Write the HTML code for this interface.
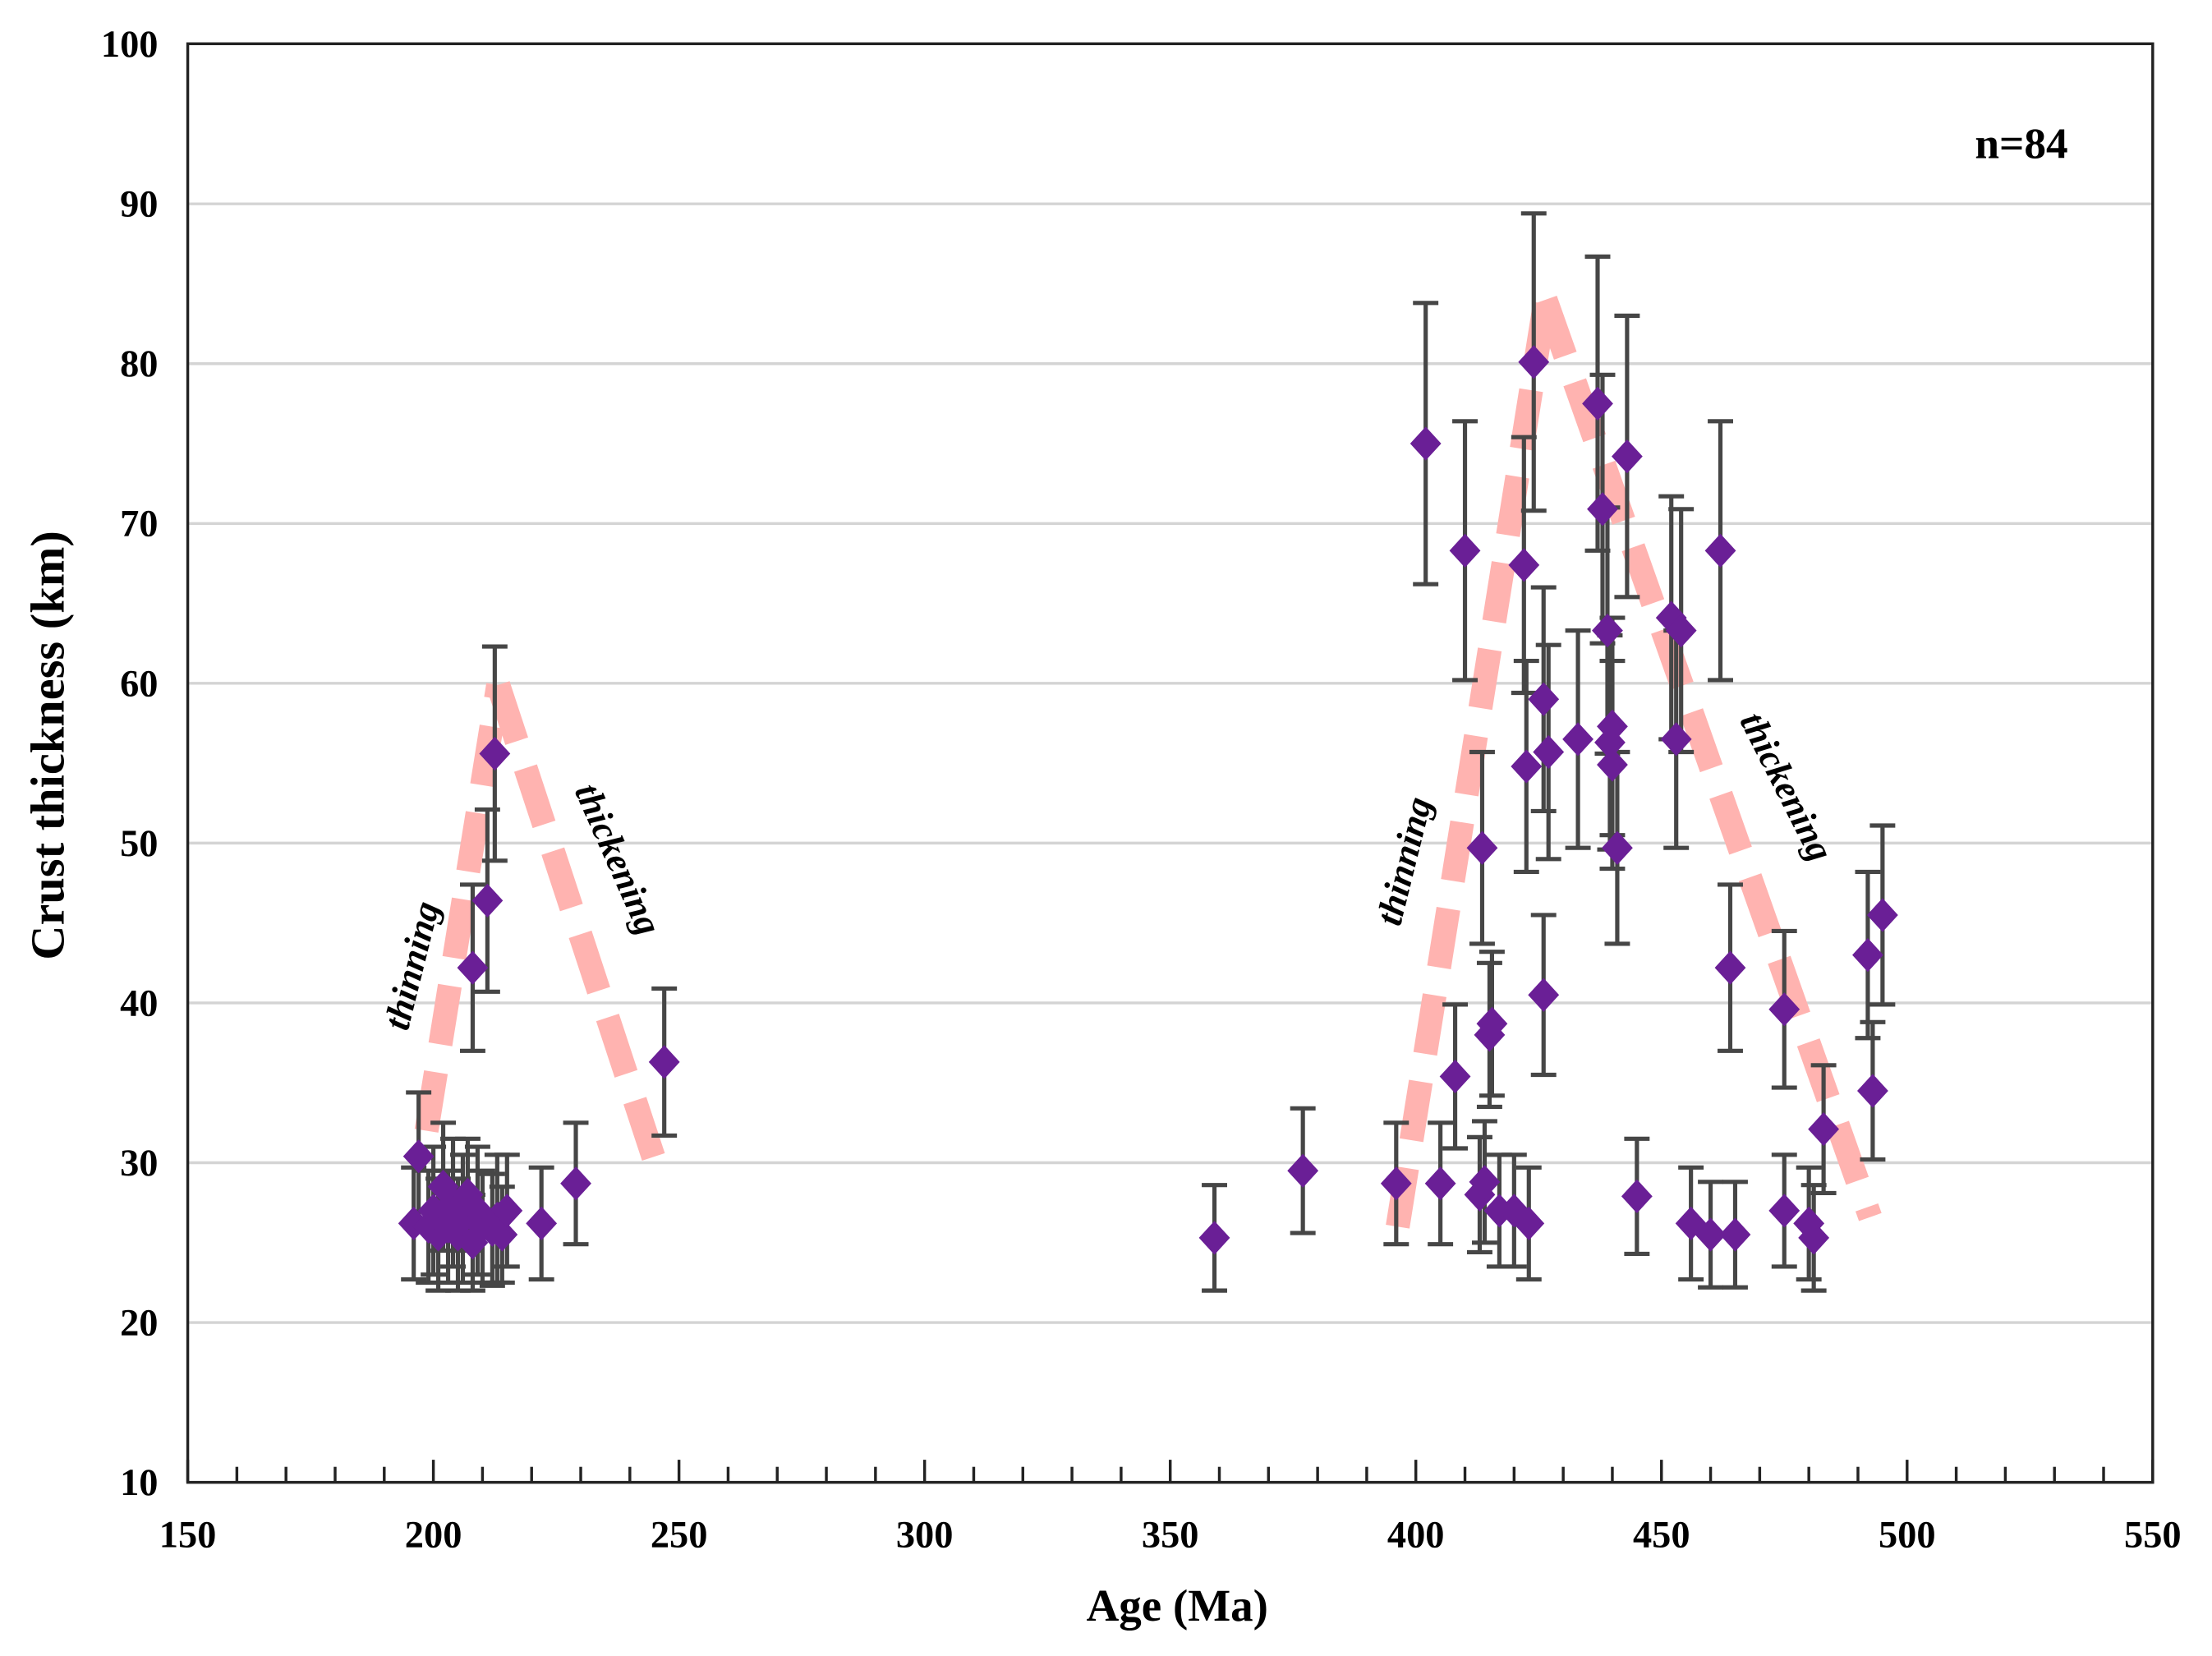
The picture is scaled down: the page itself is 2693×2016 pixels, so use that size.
<!DOCTYPE html>
<html><head><meta charset="utf-8"><style>
html,body{margin:0;padding:0;background:#fff;}
svg{display:block;}
text{font-family:"Liberation Serif",serif;font-weight:bold;fill:#000;}
</style></head><body>
<svg id="chart" width="2693" height="2016" viewBox="0 0 1567 1173" preserveAspectRatio="none" xmlns="http://www.w3.org/2000/svg">
<rect x="0" y="0" width="1567" height="1173" fill="#fff"/>
<g id="grid"></g>
<g id="trends"></g>
<g id="errs"></g>
<g id="pts"></g>
<rect x="133" y="31" width="1392" height="1019" fill="none" stroke="#222" stroke-width="2"/>
<g id="axes"></g>
<text x="834" y="1148" font-size="32" text-anchor="middle">Age (Ma)</text>
<text x="0" y="0" font-size="34" text-anchor="middle" transform="translate(45,528) rotate(-90)">Crust thickness (km)</text>
<text x="1432" y="112" font-size="31" text-anchor="middle">n=84</text>
<text font-size="26" font-style="italic" text-anchor="middle" transform="translate(300,686) rotate(-76)">thinning</text>
<text font-size="26" font-style="italic" text-anchor="middle" transform="translate(430,612) rotate(66)">thickening</text>
<text font-size="26" font-style="italic" text-anchor="middle" transform="translate(1003,612) rotate(-76)">thinning</text>
<text font-size="26" font-style="italic" text-anchor="middle" transform="translate(1258,561) rotate(63)">thickening</text>
</svg>
<script>
const ages=[196,197,199,200,201,202,203,204,205,206,207,208,209,210,212,213,214,215,208,211,212.5,222,229,247,
359,377,396,402,405,408,410,413,413.5,414,415,415.5,417,420,422,422.5,423,424,426,426,427,433,437,438,439,439.5,440,440,441,443,445,452,453,454,456,460,462,464,465,475,475,480,481,483,492,493,495];
const thickness=[26.2,30.4,26,27,25.5,28.5,26,27.5,25.5,26.5,28,25,27,26,25.8,26.5,25.5,27,42.2,46.4,55.6,26.2,28.7,36.3,
25.3,29.5,28.7,75,28.7,35.4,68.3,28,49.7,28.8,38,38.7,27,27,67.4,54.8,26.2,80.1,59,40.5,55.7,56.5,77.5,70.9,63.3,56.3,57.3,54.9,49.7,74.2,27.9,64.1,56.5,63.3,26.2,25.5,68.3,42.2,25.5,27,39.6,26.2,25.3,32.1,43,34.5,45.5];
const errors=[3.5,4,3.5,4,3.5,4,3.5,4,3.5,4,3.5,3,4,3.5,3.5,4,3,3.5,5.2,5.7,6.7,3.5,3.8,4.6,
3.3,3.9,3.8,8.8,3.8,4.5,8.1,3.6,6,3.8,4.5,4.5,3.5,3.5,8,6.6,3.5,9.3,7,5,6.7,6.8,9.2,8.4,7.7,6.7,6.8,6.5,6,8.8,3.6,7.6,6.8,7.6,3.5,3.3,8.1,5.2,3.3,3.5,4.9,3.5,3.3,4,5.2,4.3,5.6];
const trendAges=[[198.6,213.2],[213.2,245.4],[396.3,426.4],[426.4,492.5]];
const trendVals=[[32,59.9],[59.9,29.8],[26,84],[84,26.6]];
const yTicks=[10,20,30,40,50,60,70,80,90,100];
const xTicks=[150,200,250,300,350,400,450,500,550];

const NS='http://www.w3.org/2000/svg';
const X=v=>133+(v-150)*3.48;
const Y=v=>1050-(v-10)*11.32;
function mk(tag,attrs,parent){const e=document.createElementNS(NS,tag);for(const k in attrs)e.setAttribute(k,attrs[k]);document.getElementById(parent).appendChild(e);return e;}

yTicks.forEach(t=>{
  if(t>10&&t<100){const g=mk('line',{x1:133,x2:1525,y1:Y(t),y2:Y(t),stroke:'#d4d4d4','stroke-width':2},'grid');
  
  }
  const tx=mk('text',{x:112,y:Y(t)+9,'font-size':27,'text-anchor':'end'},'axes');tx.textContent=t;
  
  
});
for(let v=150;v<=550;v+=10){
  const len=(v%50===0)?16:11;
  const tk=mk('line',{x1:X(v),x2:X(v),y1:1050,y2:1050-len,stroke:'#222','stroke-width':2},'axes');
  
  
}
xTicks.forEach(t=>{
  const tx=mk('text',{x:X(t),y:1096,'font-size':27,'text-anchor':'middle'},'axes');tx.textContent=t;
  
  
});
trendAges.forEach((a,i)=>{
  const l=mk('line',{x1:X(a[0]),y1:Y(trendVals[i][0]),x2:X(a[1]),y2:Y(trendVals[i][1]),stroke:'#ffb3b0','stroke-width':17,'stroke-dasharray':'42 20'},'trends');
  
  
});
ages.forEach((a,i)=>{
  const cx=X(a),cy=Y(thickness[i]),hi=Y(thickness[i]+errors[i]),lo=Y(thickness[i]-errors[i]);
  const p=mk('path',{d:`M${cx},${hi}V${lo}M${cx-9},${hi}H${cx+9}M${cx-9},${lo}H${cx+9}`,stroke:'#464646','stroke-width':3,fill:'none'},'errs');
  
  
  const d=mk('path',{d:`M${cx},${cy-12}L${cx+11},${cy}L${cx},${cy+12}L${cx-11},${cy}Z`,fill:'#6a1f96'},'pts');
  
  
});
</script>
</body></html>
